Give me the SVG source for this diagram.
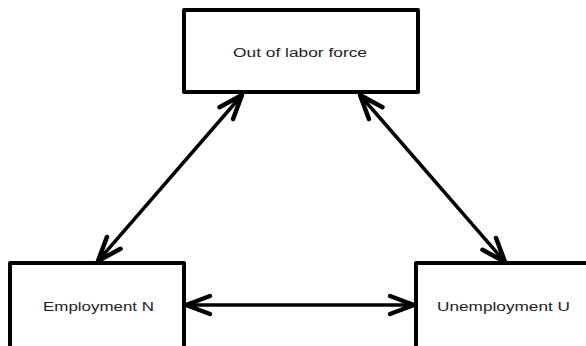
<svg xmlns="http://www.w3.org/2000/svg" width="586" height="346" viewBox="0 0 586 346">
<style>
.box{fill:#fff;stroke:#000;stroke-width:4;stroke-linejoin:round}
.lbl{font-family:"Liberation Sans",Arial,sans-serif;font-size:12.5px;fill:#222;text-anchor:middle}
.con{stroke:#000;stroke-width:3.5;fill:none;marker-start:url(#ah);marker-end:url(#ah)}
</style>
<defs>
<marker id="ah" markerUnits="userSpaceOnUse" viewBox="-30 -12 34 24" refX="0" refY="0" markerWidth="34" markerHeight="24" orient="auto-start-reverse" overflow="visible">
<path d="M-24,-9 L0,0 L-24,9" fill="none" stroke="#000" stroke-width="4.5" stroke-linecap="round" stroke-linejoin="round"/>
</marker>
</defs>
<rect width="586" height="346" fill="#fff"/>
<g id="node-olf">
<rect class="box" x="184" y="10" width="234" height="82"/>
<text class="lbl" x="300" y="57" textLength="134" lengthAdjust="spacingAndGlyphs">Out of labor force</text>
</g>
<g id="node-emp">
<rect class="box" x="10" y="263" width="174" height="100"/>
<text class="lbl" x="98.5" y="311" textLength="111" lengthAdjust="spacingAndGlyphs">Employment N</text>
</g>
<g id="node-unemp">
<rect class="box" x="416" y="263" width="180" height="100"/>
<text class="lbl" x="503.5" y="311" textLength="133" lengthAdjust="spacingAndGlyphs">Unemployment U</text>
</g>
<g id="connectors">
<line class="con" x1="242" y1="95" x2="98" y2="261"/>
<line class="con" x1="360" y1="95" x2="505" y2="262"/>
<line class="con" x1="186" y1="305" x2="414" y2="305"/>
</g>
</svg>
